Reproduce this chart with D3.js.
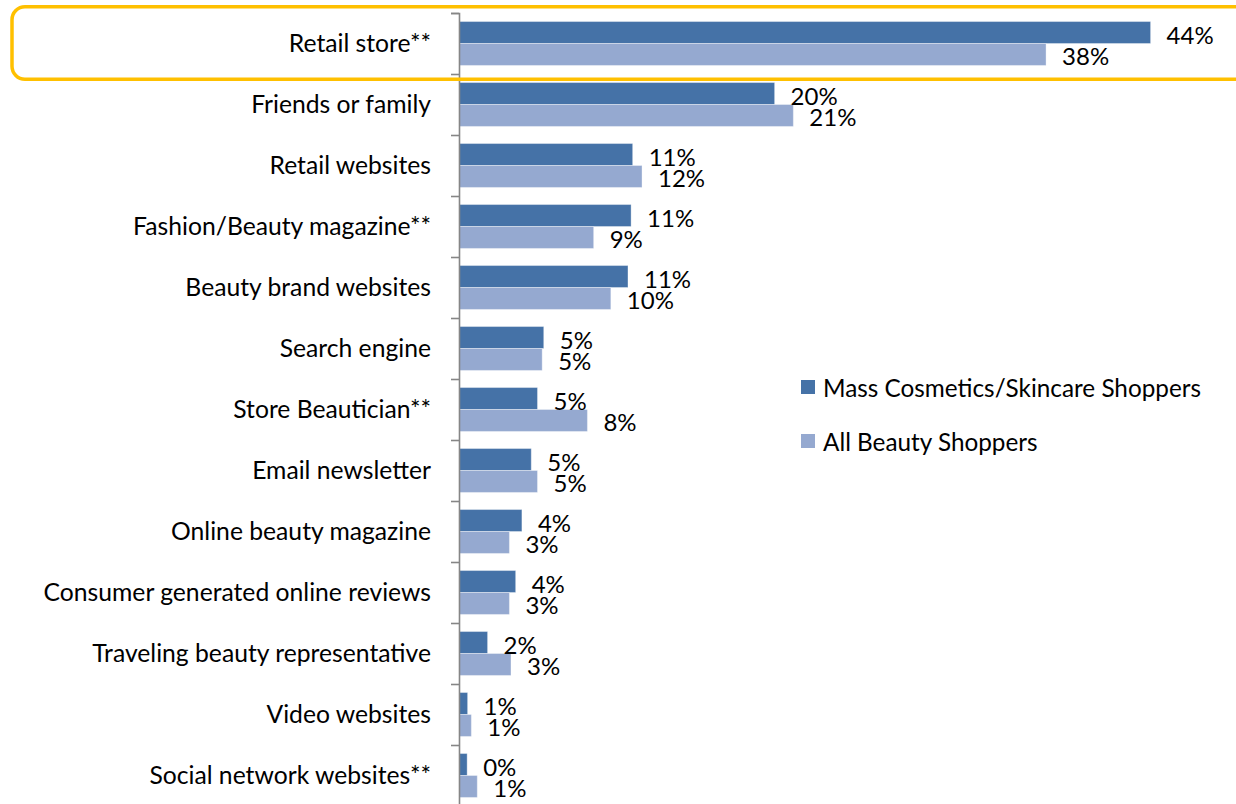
<!DOCTYPE html>
<html>
<head>
<meta charset="utf-8">
<script src="https://cdn.jsdelivr.net/npm/d3@7"></script>
<style>
  html, body { margin: 0; padding: 0; background: #ffffff; }
  svg { display: block; }
  text { font-family: Lato, "Open Sans", sans-serif; fill: #000; }
</style>
</head>
<body>
<svg id="chart" width="1236" height="804"></svg>
<script>
// Sources of beauty product information (% of shoppers)
const categories = [
  "Retail store**",
  "Friends or family",
  "Retail websites",
  "Fashion/Beauty magazine**",
  "Beauty brand websites",
  "Search engine",
  "Store Beautician**",
  "Email newsletter",
  "Online beauty magazine",
  "Consumer generated online reviews",
  "Traveling beauty representative",
  "Video websites",
  "Social network websites**"
];
const seriesNames = ["Mass Cosmetics/Skincare Shoppers", "All Beauty Shoppers"];
const massShoppers = [44.3, 20.2, 11.1, 11.0, 10.8, 5.4, 5.0, 4.6, 4.0, 3.6, 1.8, 0.52, 0.49];
const allShoppers  = [37.6, 21.4, 11.7, 8.6, 9.7, 5.3, 8.2, 5.0, 3.2, 3.2, 3.3, 0.76, 1.14];
const highlighted = "Retail store**";

const colors = ["#4572a7", "#95a9d0"];
const valueFont = 24;
const labelFont = 24.7;
const legendFont = 24.3;

const svg = d3.select("#chart");

const axisX = 459;
const plotTop = 13, plotBottom = 806;

// value scale (percent)
const x = d3.scaleLinear().domain([0, 50]).range([axisX + 0.5, axisX + 0.5 + 50 * 15.6]);

// category bands
const y0 = d3.scaleBand().domain(categories).range([plotTop, plotBottom])
  .paddingInner(0.28).paddingOuter(0.14);
const y1 = d3.scaleBand().domain(seriesNames).range([0, y0.bandwidth()]);

// boundary positions for the category tick marks
const yEdge = d3.scaleLinear().domain([0, categories.length]).range([plotTop, plotBottom]);

const rows = categories.map((c, i) => ({
  category: c,
  values: [
    { series: seriesNames[0], value: massShoppers[i], color: colors[0] },
    { series: seriesNames[1], value: allShoppers[i], color: colors[1] }
  ]
}));

// bars
const groups = svg.append("g").selectAll("g.row").data(rows).join("g")
  .attr("class", "row")
  .attr("transform", d => `translate(0,${y0(d.category)})`);

groups.selectAll("rect").data(d => d.values).join("rect")
  .attr("x", x(0))
  .attr("y", d => y1(d.series))
  .attr("width", d => x(d.value) - x(0))
  .attr("height", y1.bandwidth())
  .attr("fill", d => d.color)
  .attr("stroke", "#ffffff")
  .attr("stroke-opacity", 0.35)
  .attr("stroke-width", 1);

// value labels
const fmt = v => Math.round(v) + "%";
groups.selectAll("text.val").data(d => d.values).join("text")
  .attr("class", "val")
  .attr("x", d => x(d.value) + 16)
  .attr("y", d => y1(d.series) + y1.bandwidth() / 2 + 1.5)
  .attr("dominant-baseline", "central")
  .style("font-size", valueFont + "px")
  .text(d => fmt(d.value));

// category axis: line and boundary ticks
const edgeAxis = d3.axisLeft(yEdge)
  .tickValues(d3.range(0, categories.length + 1))
  .tickSize(8)
  .tickFormat("");
const gEdge = svg.append("g").attr("transform", `translate(${axisX},0)`).call(edgeAxis);
gEdge.selectAll("path, line").attr("stroke", "#868686").attr("stroke-width", 1.6);

// category labels
const labelAxis = d3.axisLeft(y0).tickSize(0).tickPadding(28);
const gLab = svg.append("g").attr("transform", `translate(${axisX},0)`).call(labelAxis);
gLab.select(".domain").remove();
gLab.selectAll("text")
  .style("font-size", labelFont + "px")
  .style("font-family", "Lato, 'Open Sans', sans-serif")
  .attr("fill", "#000")
  .attr("dy", "0.35em");

// legend
const legend = svg.append("g").attr("transform", "translate(801,380)");
const li = legend.selectAll("g").data(seriesNames).join("g")
  .attr("transform", (d, i) => `translate(0,${i * 54})`);
li.append("rect").attr("width", 14).attr("height", 14)
  .attr("fill", (d, i) => colors[i]);
li.append("text").attr("x", 22).attr("y", 7.5)
  .attr("dominant-baseline", "central")
  .style("font-size", legendFont + "px")
  .text(d => d);

// highlight frame around the leading category
const hi = categories.indexOf(highlighted);
svg.append("rect")
  .attr("x", 12)
  .attr("y", yEdge(hi) - 6.3)
  .attr("width", 1400)
  .attr("height", yEdge(hi + 1) - yEdge(hi) + 11.5)
  .attr("rx", 13)
  .attr("fill", "none")
  .attr("stroke", "#ffc000")
  .attr("stroke-width", 3.5);
</script>
</body>
</html>
